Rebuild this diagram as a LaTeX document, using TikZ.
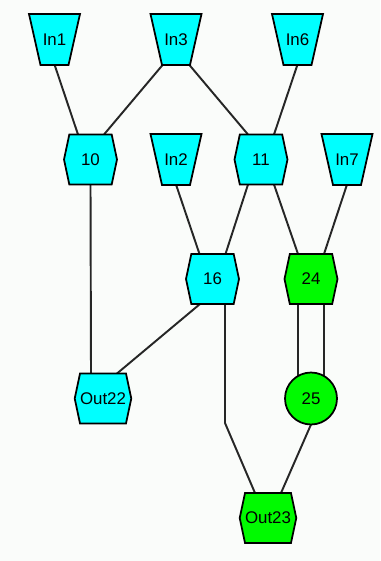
\documentclass[tikz,border=0pt]{standalone}
\usepackage{fontspec}
\setmainfont{Liberation Sans}
\usetikzlibrary{calc,shapes.symbols,backgrounds}
\definecolor{nodecyan}{RGB}{0,255,255}
\definecolor{nodegreen}{RGB}{0,250,0}
\definecolor{bgpaper}{RGB}{250,252,250}
\tikzset{
	base/.style={draw=black, line width=1pt, inner sep=0pt, font=\fontsize{9.6}{11}\selectfont},
	intext/.style={inner sep=0pt, minimum size=1.02cm, font=\fontsize{9.6}{11}\selectfont},
	opnode/.style={base, signal, signal to=east and west, signal pointer angle=156, minimum width=1.06cm, minimum height=1.0cm},
	ringnode/.style={base, circle, fill=nodegreen, minimum size=1.04cm},
	edge/.style={draw=black!85, line width=1.1pt}
}
\def\inputbox(#1)(#2)#3{\filldraw[line width=1pt, fill=nodecyan] ($(#2)+(-25.5,-25.5)$) -- ($(#2)+(25.5,-25.5)$) -- ($(#2)+(14,25.5)$) -- ($(#2)+(-14,25.5)$) -- cycle; \node[intext] (#1) at (#2) {#3};}

\begin{document}
\begin{tikzpicture}[x=0.02cm, y=-0.02cm]
			%%%%% START %%%%%
			
			\useasboundingbox (0, 0) rectangle (380, 561);
			
			\inputbox(in1)(54.5, 39.5){In1}
			\inputbox(in3)(176, 39.5){In3}
			\inputbox(in6)(297.5, 39.5){In6}
			
			\node[opnode, fill=nodecyan] (n10) at (90.5, 159.5) {10};
			\inputbox(in2)(176, 159.5){In2}
			\node[opnode, fill=nodecyan] (n11) at (261, 159.5) {11};
			\inputbox(in7)(347, 159.5){In7}
			
			\node[opnode, fill=nodecyan] (n16) at (212.5, 279) {16};
			\node[opnode, fill=nodegreen] (n24) at (311, 279) {24};
			
			\node[opnode, fill=nodecyan] (out22) at (103, 398.5) {Out22};
			\node[ringnode] (n25) at (311, 398.5) {25};
			
			\node[opnode, fill=nodegreen] (out23) at (268, 518) {Out23};
			
			\begin{scope}[on background layer]
			\fill[bgpaper] (0, 0) rectangle (380, 561);
			
			\draw[edge] ($(in1.center)+(0, 25)$) -- ($(n10.center)+(-12.5, -25)$);
			\draw[edge] ($(in3.center)+(-13, 25)$) -- ($(n10.center)+(13.5, -25)$);
			\draw[edge] ($(in3.center)+(13, 25)$) -- ($(n11.center)+(-13, -25)$);
			\draw[edge] ($(in6.center)+(0, 25)$) -- ($(n11.center)+(13, -25)$);
			
			\draw[edge] ($(n10.center)+(0, 25)$) -- ($(out22.center)+(-12, -25)$);
			\draw[edge] ($(in2.center)+(0, 25)$) -- ($(n16.center)+(-13, -25)$);
			\draw[edge] ($(n11.center)+(-13, 25)$) -- ($(n16.center)+(13, -25)$);
			\draw[edge] ($(n11.center)+(13, 25)$) -- ($(n24.center)+(-13, -25)$);
			\draw[edge] ($(in7.center)+(0, 25)$) -- ($(n24.center)+(13, -25)$);
			
			\draw[edge] ($(n16.center)+(-12.5, 25)$) -- ($(out22.center)+(14, -25)$);
			\draw[edge] ($(n16.center)+(12.5, 25)$) -- ++(0, 119) -- ($(out23.center)+(-13, -25)$);
			
			\draw[edge] ($(n24.center)+(-13, 25)$) -- ($(n25.center)+(-13, 0)$);
			\draw[edge] ($(n24.center)+(13, 25)$) -- ($(n25.center)+(13, 0)$);
			\draw[edge] ($(n25.center)+(0, 26)$) -- ($(out23.center)+(13, -25)$);
			\end{scope}
			
			%%%%% END %%%%%
\end{tikzpicture}
\end{document}
